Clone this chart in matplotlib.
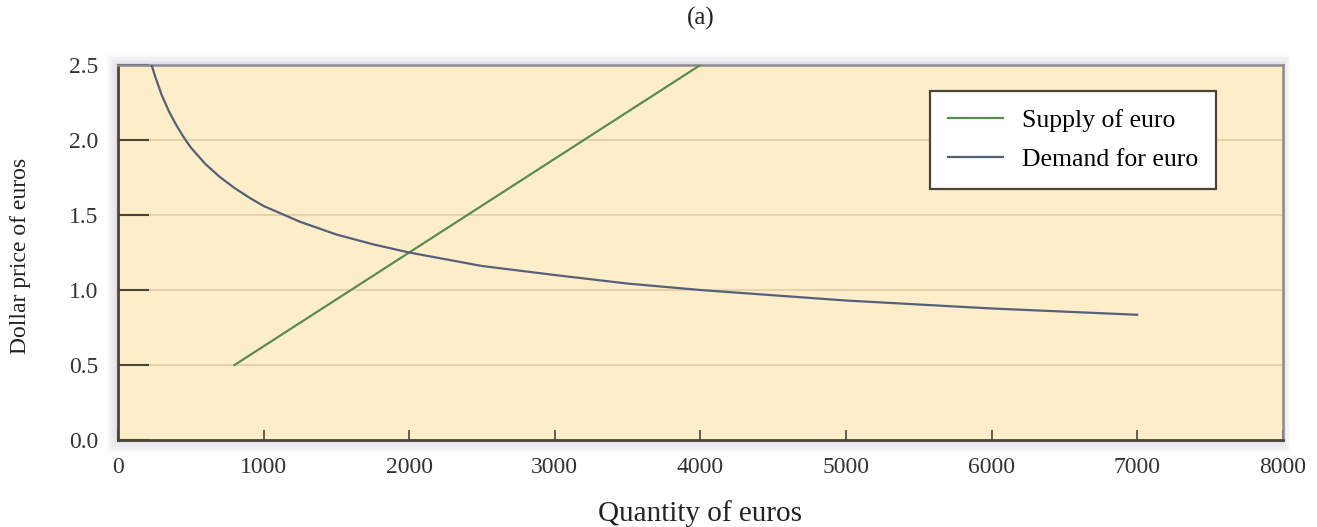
import matplotlib.pyplot as plt
from matplotlib.patches import Rectangle

plt.rcParams['font.family'] = ['Liberation Serif', 'DejaVu Serif']

# supply of euro (straight line)
supply_q = [800, 4000]
supply_p = [0.5, 2.5]

# demand for euro
demand_q = [200, 230, 260, 300, 350, 400, 450, 500, 600, 700, 800, 900, 1000,
            1250, 1500, 1750, 2000, 2500, 3000, 3500, 4000, 5000, 6000, 7000]
demand_p = [2.62, 2.5, 2.41, 2.30, 2.19, 2.10, 2.02, 1.95, 1.84, 1.753, 1.68,
            1.617, 1.56, 1.455, 1.37, 1.305, 1.25, 1.16, 1.10, 1.043, 1.0,
            0.93, 0.877, 0.835]

x_ticks = [0, 1000, 2000, 3000, 4000, 5000, 6000, 7000, 8000]
y_ticks = [0.0, 0.5, 1.0, 1.5, 2.0, 2.5]

fig = plt.figure(figsize=(13.17, 5.27), dpi=100)
x0, y0, w, h = 0.0896, 0.165, 0.8844, 0.7117
ax = fig.add_axes([x0, y0, w, h])
ax.set_zorder(2)

# soft shadow around the plot frame
for i, a in enumerate([0.04, 0.05, 0.06, 0.08]):
    d = (4 - i) * 0.0035
    fig.patches.append(Rectangle((x0 - d * 0.6, y0 - d * 1.8), w + d * 1.0, h + d * 3.2,
                                 transform=fig.transFigure, facecolor='#7a7a98',
                                 edgecolor='none', alpha=a, zorder=-1))

ax.set_facecolor('#FDEEC9')
ax.set_xlim(0, 8000)
ax.set_ylim(0, 2.5)

for yv in y_ticks[1:-1]:
    ax.axhline(yv, color='#E6D3AE', lw=1.5, zorder=1)

ax.plot(supply_q, supply_p, color='#5A8C4E', lw=1.6, label='Supply of euro', zorder=3)
ax.plot(demand_q, demand_p, color='#55607A', lw=1.6, label='Demand for euro', zorder=3)

ax.set_xticks(x_ticks)
ax.set_yticks(y_ticks)
ax.set_yticklabels(['%.1f' % v for v in y_ticks])
ax.tick_params(axis='x', direction='in', length=7, width=1.2, color='#4a4538',
               labelsize=17, pad=12, labelcolor='#333333')
ax.tick_params(axis='y', direction='in', length=22, width=1.5, color='#4a4538',
               labelsize=17, pad=14, labelcolor='#333333')

for s in ['left', 'bottom']:
    ax.spines[s].set_color('#4a4538')
    ax.spines[s].set_linewidth(2)
for s in ['top', 'right']:
    ax.spines[s].set_color('#8c8a90')
    ax.spines[s].set_linewidth(1.8)

ax.set_xlabel('Quantity of euros', fontsize=21, color='#222222')
ax.set_ylabel('Dollar price of euros', fontsize=17, color='#222222')
ax.xaxis.set_label_coords(0.5, -0.195)
ax.yaxis.set_label_coords(-0.084, 0.49)
ax.xaxis.label.set_va('center')
ax.yaxis.label.set_va('center')
ax.text(0.5, 1.125, '(a)', transform=ax.transAxes, ha='center', va='center',
        fontsize=18, color='#222222')

leg = ax.legend(loc='upper right', bbox_to_anchor=(0.943, 0.931), fontsize=18.5,
                frameon=True, fancybox=False, framealpha=1, handlelength=2.15,
                handletextpad=0.75, borderpad=0.7, labelspacing=0.62,
                borderaxespad=0)
leg.get_frame().set_facecolor('#FFFFFF')
leg.get_frame().set_edgecolor('#4a4538')
leg.get_frame().set_linewidth(1.6)

fig.savefig('out.png', dpi=100)
